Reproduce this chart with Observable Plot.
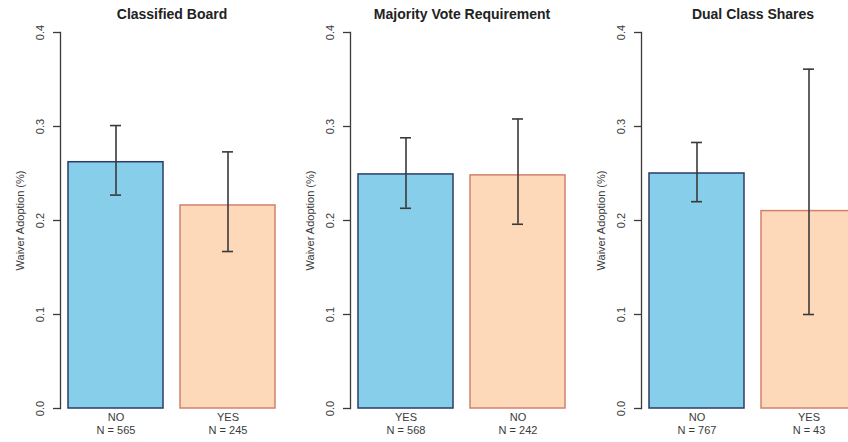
<!DOCTYPE html>
<html>
<head>
<meta charset="utf-8">
<script src="https://cdn.jsdelivr.net/npm/d3@7"></script>
<script src="https://cdn.jsdelivr.net/npm/@observablehq/plot@0.6"></script>
<style>
  html, body { margin: 0; padding: 0; background: #fff; }
  #chart { width: 848px; height: 442px; overflow: hidden; display: flex; flex-wrap: nowrap; }
  #chart > svg { flex: none; }
</style>
</head>
<body>
<div id="chart"></div>
<script>
// Waiver adoption rate by governance feature, with confidence intervals
const panelTitles = ["Classified Board", "Majority Vote Requirement", "Dual Class Shares"];
const groupLabels = [["NO", "YES"], ["YES", "NO"], ["NO", "YES"]];
const groupCounts = [[565, 245], [568, 242], [767, 43]];
const adoptionRate = [[0.262, 0.216], [0.249, 0.248], [0.250, 0.210]];
const ciLower = [[0.227, 0.167], [0.213, 0.196], [0.220, 0.100]];
const ciUpper = [[0.301, 0.273], [0.288, 0.308], [0.283, 0.361]];
const yTicks = [0, 0.1, 0.2, 0.3, 0.4];
const yLabel = "Waiver Adoption (%)";

const fills = ["#87ceeb", "#fdd9b9"];
const strokes = ["#2c3b66", "#d2806e"];
const ink = "#3a3a3a";
const font = "'Liberation Sans', Arial, sans-serif";

const chart = document.getElementById("chart");

panelTitles.forEach((title, p) => {
  const rows = groupLabels[p].map((label, i) => ({
    i,
    label,
    n: groupCounts[p][i],
    rate: adoptionRate[p][i],
    lo: ciLower[p][i],
    hi: ciUpper[p][i]
  }));

  const svg = Plot.plot({
    width: 290,
    height: 442,
    marginLeft: 60,
    marginRight: 7,
    marginTop: 32,
    marginBottom: 34,
    style: { fontFamily: font, color: ink, background: "#fff", overflow: "visible" },
    x: { type: "band", domain: [0, 1], range: [68, 275], paddingInner: 0.152, paddingOuter: 0, axis: null },
    y: { domain: [0, 0.4], axis: null },
    marks: [
      Plot.barY(rows, {
        x: "i", y: "rate",
        fill: d => fills[d.i], stroke: d => strokes[d.i], strokeWidth: 1.5
      }),
      // confidence interval whiskers
      Plot.ruleX(rows, { x: "i", y1: "lo", y2: "hi", stroke: ink, strokeWidth: 1.6 }),
      Plot.tickY(rows, { x: "i", y: "lo", stroke: ink, strokeWidth: 1.6, insetLeft: 42, insetRight: 42 }),
      Plot.tickY(rows, { x: "i", y: "hi", stroke: ink, strokeWidth: 1.6, insetLeft: 42, insetRight: 42 }),
      // y axis: spine, ticks and rotated labels
      Plot.frame({ anchor: "left", stroke: ink, strokeWidth: 1.3 }),
      Plot.axisY({ ticks: yTicks, tickSize: 7, tickFormat: () => "", label: null, stroke: ink, strokeWidth: 1.3 }),
      Plot.text(yTicks, {
        y: d => d, text: d => d3.format(".1f")(d), frameAnchor: "left", textAnchor: "middle",
        dx: -20, rotate: -90, fontSize: 11, fill: ink
      }),
      Plot.text([yLabel], {
        frameAnchor: "left", textAnchor: "middle",
        dx: -40, rotate: -90, fontSize: 11, fill: ink
      }),
      // group names and sample sizes under the bars
      Plot.text(rows, {
        x: "i", frameAnchor: "bottom", lineAnchor: "top", dy: 3,
        text: d => `${d.label}\nN = ${d.n}`, lineHeight: 1.2, fontSize: 11, fill: ink
      }),
      Plot.text([title], {
        frameAnchor: "top", lineAnchor: "bottom", dy: -13.5,
        fontSize: 14, fontWeight: "bold", fill: "#222"
      })
    ]
  });
  svg.style.marginLeft = p === 2 ? "1px" : "0px";
  chart.appendChild(svg);
});
</script>
</body>
</html>
